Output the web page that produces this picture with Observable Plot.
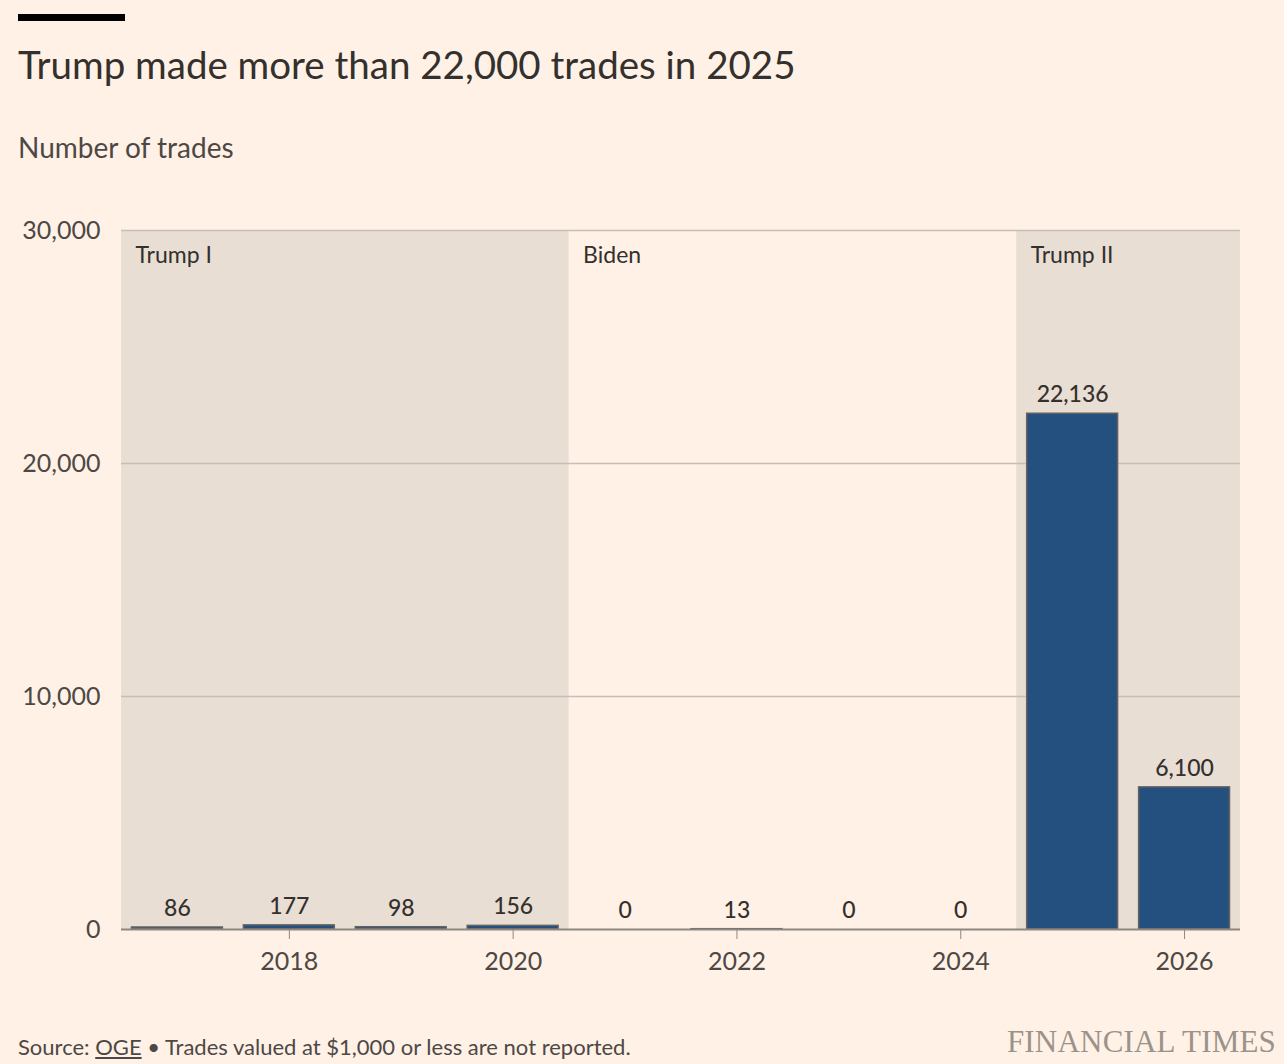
<!DOCTYPE html>
<html>
<head>
<meta charset="utf-8">
<script src="https://cdn.jsdelivr.net/npm/d3@7"></script>
<script src="https://cdn.jsdelivr.net/npm/@observablehq/plot@0.6"></script>
<style>
  html, body { margin: 0; padding: 0; background: #fff1e5; }
  body { width: 1284px; height: 1064px; position: relative; overflow: hidden; font-family: Lato, "Noto Sans", sans-serif; color: #33302e; }
  #bar { position: absolute; left: 18px; top: 14px; width: 107px; height: 7px; background: #000; }
  #title { position: absolute; left: 18px; top: 40px; font-size: 38.5px; line-height: 48px; color: #33302e; white-space: nowrap; }
  #subtitle { position: absolute; left: 18px; top: 130px; font-size: 28px; line-height: 34px; color: #4d4845; white-space: nowrap; }
  #chart { position: absolute; left: 0; top: 200px; }
  #source { position: absolute; left: 18px; top: 1033px; font-size: 22px; line-height: 28px; color: #4d4845; white-space: nowrap; }
  #source u { text-decoration: underline; }
  #ft { position: absolute; right: 8px; top: 1024px; font-family: "Liberation Serif", "DejaVu Serif", serif; font-size: 31px; line-height: 36px; color: #9b938b; letter-spacing: 0.2px; white-space: nowrap; }
</style>
</head>
<body>
<div id="bar"></div>
<div id="title">Trump made more than 22,000 trades in 2025</div>
<div id="subtitle">Number of trades</div>
<div id="chart"></div>
<div id="source">Source: <u>OGE</u> • Trades valued at $1,000 or less are not reported.</div>
<div id="ft">FINANCIAL TIMES</div>
<script>
const years = [2017, 2018, 2019, 2020, 2021, 2022, 2023, 2024, 2025, 2026];
const trades = [86, 177, 98, 156, 0, 13, 0, 0, 22136, 6100];

const periodNames = ["Trump I", "Biden", "Trump II"];
const periodStart = [2016.5, 2020.5, 2024.5];
const periodEnd = [2020.5, 2024.5, 2026.5];
const periodShaded = [true, false, true];

const yTicks = [0, 10000, 20000, 30000];
const xTicks = [2018, 2020, 2022, 2024, 2026];

const data = years.map((year, i) => ({year, value: trades[i]}));
const periods = periodNames.map((name, i) => ({name, start: periodStart[i], end: periodEnd[i], shaded: periodShaded[i]}));
const fmt = d3.format(",");

const chart = Plot.plot({
  width: 1284,
  height: 800,
  marginLeft: 121,
  marginRight: 44,
  marginTop: 30,
  marginBottom: 71,
  style: {background: "transparent", fontFamily: "Lato, 'Noto Sans', sans-serif", color: "#4d4845"},
  x: {domain: [2016.5, 2026.5], label: null},
  y: {domain: [0, 30000], label: null},
  marks: [
    Plot.rect(periods.filter(d => d.shaded), {x1: "start", x2: "end", y1: 0, y2: 30000, fill: "#e9ded3"}),
    Plot.ruleY(yTicks.filter(d => d > 0), {stroke: "#c9beb3", strokeWidth: 1.5}),
    Plot.axisY({ticks: yTicks, tickSize: 0, tickPadding: 21, tickFormat: fmt, fontSize: 25, fill: "#4d4845"}),
    Plot.text(periods, {x: "start", y: 30000, text: "name", textAnchor: "start", dx: 14, dy: 25, fontSize: 23, fill: "#33302e"}),
    Plot.rectY(data, {x1: d => d.year - 0.5, x2: d => d.year + 0.5, y: "value", insetLeft: 10.5, insetRight: 10.5, fill: "#245080", stroke: "#66625e", strokeWidth: 1.5}),
    Plot.ruleY([0], {stroke: "#8e8882", strokeWidth: 2}),
    Plot.axisX({ticks: xTicks, tickFormat: d => String(d), tickSize: 10, tickPadding: 13, fontSize: 25, stroke: "#8e8882", fill: "#4d4845"}),
    Plot.text(data, {x: "year", y: "value", text: d => fmt(d.value), dy: -19, fontSize: 23, fill: "#33302e", fontWeight: 500})
  ]
});
document.getElementById("chart").appendChild(chart);
</script>
</body>
</html>
